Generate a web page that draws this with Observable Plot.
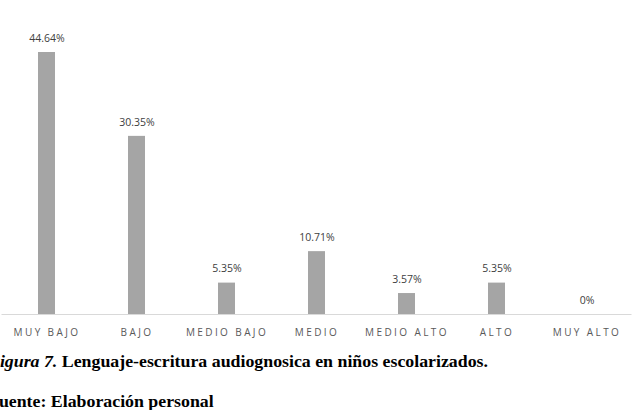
<!DOCTYPE html>
<html>
<head>
<meta charset="utf-8">
<script src="https://cdn.jsdelivr.net/npm/d3@7"></script>
<script src="https://cdn.jsdelivr.net/npm/@observablehq/plot@0.6"></script>
<style>
  html, body { margin: 0; padding: 0; background: #fff; }
  body { width: 634px; height: 410px; position: relative; overflow: hidden; }
  #chart { position: absolute; left: 0; top: 0; }
  .cap { position: absolute; left: -12px; font-family: "Liberation Serif", "Times New Roman", serif; font-weight: bold; font-size: 16.5px; line-height: 16.5px; color: #000; white-space: nowrap; transform: scaleX(1.08); transform-origin: 0 0; }
</style>
</head>
<body>
<div id="chart"></div>
<div class="cap" style="top:354px"><i>Figura 7.</i> Lenguaje-escritura audiognosica en niños escolarizados.</div>
<div class="cap" style="top:394px">Fuente: Elaboración personal</div>
<script>
const categories = ["MUY BAJO", "BAJO", "MEDIO BAJO", "MEDIO", "MEDIO ALTO", "ALTO", "MUY ALTO"];
const values = [44.64, 30.35, 5.35, 10.71, 3.57, 5.35, 0];
const valueLabels = ["44.64%", "30.35%", "5.35%", "10.71%", "3.57%", "5.35%", "0%"];

const data = categories.map((c, i) => ({cat: c, v: values[i], label: valueLabels[i]}));

const chart = Plot.plot({
  width: 634,
  height: 340,
  marginTop: 52,
  marginBottom: 26,
  marginLeft: 1.5,
  marginRight: 2.5,
  style: {background: "transparent", fontFamily: "'Open Sans', sans-serif"},
  x: {domain: categories, paddingInner: 0.81, paddingOuter: 0.405, label: null},
  y: {domain: [0, 44.64], axis: null},
  marks: [
    Plot.barY(data, {x: "cat", y: "v", fill: "#a5a5a5"}),
    Plot.ruleY([0], {stroke: "#d9d9d9", strokeWidth: 1}),
    Plot.text(data, {x: "cat", y: "v", text: "label", dy: -14, fontSize: 10.5, fill: "#404040"}),
    Plot.axisX({tickSize: 0, tickPadding: 14.5, fontSize: 10, fill: "#595959", label: null})
  ]
});
d3.select(chart).selectAll("g[aria-label='x-axis tick label'] text").style("letter-spacing", "2.4px");
document.getElementById("chart").appendChild(chart);
</script>
</body>
</html>
